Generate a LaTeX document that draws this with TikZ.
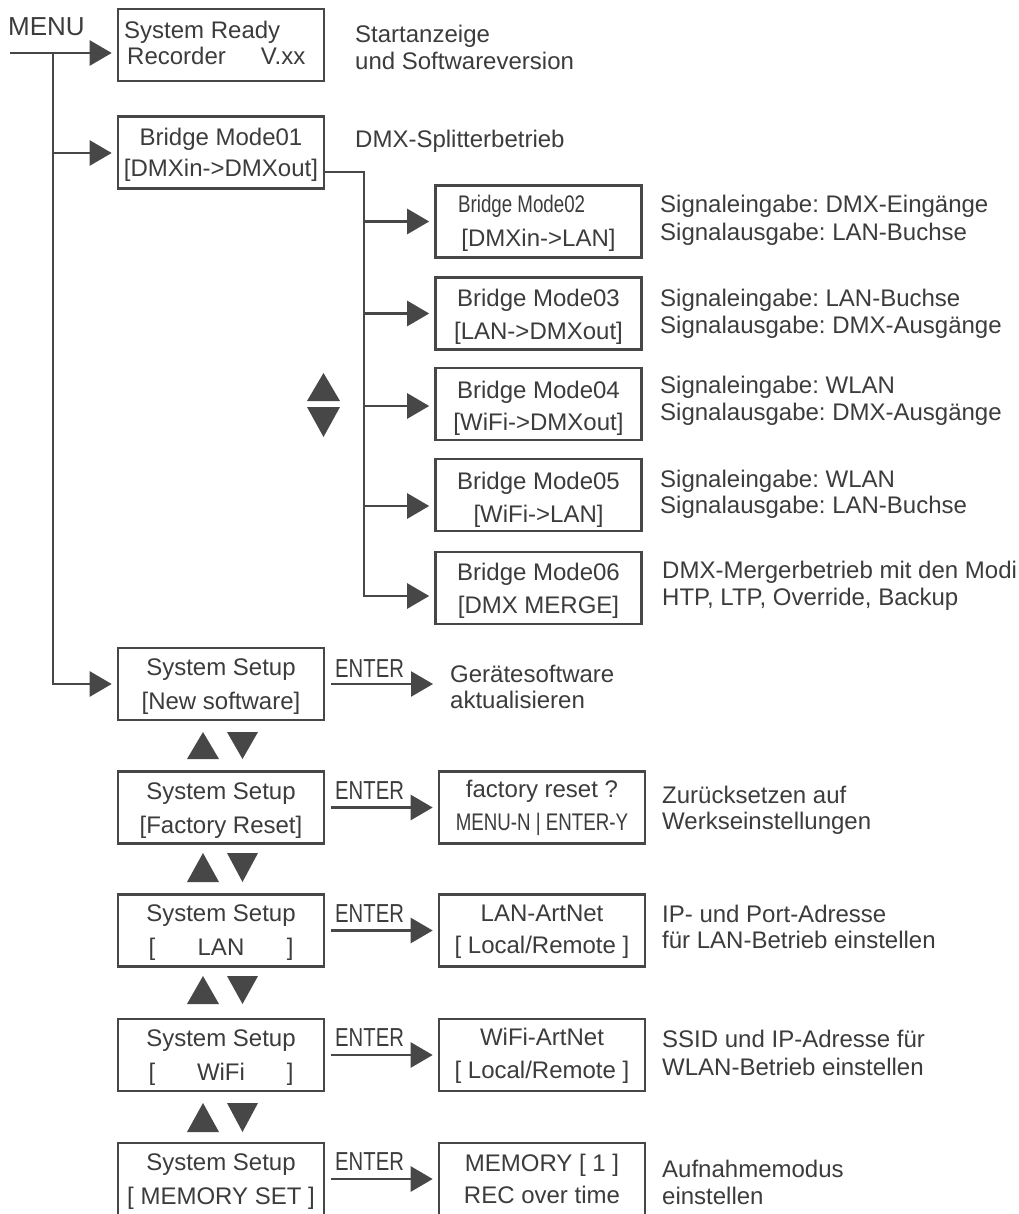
\documentclass[tikz,border=0pt]{standalone}
\usepackage{fontspec}
\setmainfont{Liberation Sans}
\newfontfamily\narrowf[FakeStretch=0.78]{Liberation Sans}
\usetikzlibrary{arrows.meta}
\definecolor{lc}{HTML}{474747}
\definecolor{tc}{HTML}{3C3C3C}
\frenchspacing
\begin{document}
\begin{tikzpicture}[x=1pt,y=-1pt,
  box/.style={draw=lc, line width=2.6pt, inner sep=0pt, minimum width=206pt, minimum height=72pt},
  tx/.style={text=tc, inner sep=0pt, anchor=base, font=\fontsize{24}{28}\selectfont},
  txl/.style={tx, anchor=base west},
  nar/.style={text=tc, inner sep=0pt, anchor=base, font=\narrowf\fontsize{24}{28}\selectfont},
  ent/.style={text=tc, inner sep=0pt, anchor=base west, font=\narrowf\fontsize{26}{28}\selectfont},
  arr/.style={draw=lc, line width=2.6pt, -{Triangle[length=22pt,width=25pt]}, shorten >=5pt},
  ln/.style={draw=lc, line width=2.6pt},
  tri/.style={fill=lc, draw=none}
]
\fill[white] (0,0) rectangle (1018,1214);
\useasboundingbox (0,0) rectangle (1018,1214);

% ---------- boxes, left column
\node[box] (b0) at (221,45) {};
\node[box] (b1) at (221,152.5) {};
\node[box] (s1) at (221,684) {};
\node[box] (s2) at (221,807.5) {};
\node[box] (s3) at (221,930.5) {};
\node[box] (s4) at (221,1055) {};
\node[box] (s5) at (221,1179) {};
% ---------- bridge boxes
\node[box] (m2) at (538.5,221.5) {};
\node[box] (m3) at (538.5,313.5) {};
\node[box] (m4) at (538.5,404) {};
\node[box] (m5) at (538.5,495) {};
\node[box] (m6) at (538.5,588) {};
% ---------- right setup boxes
\node[box] (r2) at (542,807.5) {};
\node[box] (r3) at (542,930.5) {};
\node[box] (r4) at (542,1055) {};
\node[box] (r5) at (542,1179) {};

% ---------- box texts
\node[txl] (b0a) at (124,39) {System Ready};
\node[txl] (b0b) at (127,65) {Recorder\hspace{35pt}V.xx};
\node[tx] (b1a) at (221,146) {Bridge Mode01};
\node[tx] (b1b) at (221,177) {\relax[DMXin->DMXout]};

\node[tx] (s1a) at (221,675) {System Setup};
\node[tx] (s1b) at (221,709) {\relax[New software]};
\node[tx] (s2a) at (221,799) {System Setup};
\node[tx] (s2b) at (221,833) {\relax[Factory Reset]};
\node[tx] (s3a) at (221,921) {System Setup};
\node[tx] (s3b) at (221,955) {\makebox[145pt]{[\hfill LAN\hfill ]}};
\node[tx] (s4a) at (221,1046) {System Setup};
\node[tx] (s4b) at (221,1080) {\makebox[145pt]{[\hfill WiFi\hfill ]}};
\node[tx] (s5a) at (221,1170) {System Setup};
\node[tx] (s5b) at (221,1204) {\relax[ MEMORY SET ]};

\node[nar, anchor=base west] (m2a) at (458,213) {Bridge Mode02};
\node[tx] (m2b) at (538.5,247) {\relax[DMXin->LAN]};
\node[tx] (m3a) at (538.5,306) {Bridge Mode03};
\node[tx] (m3b) at (538.5,339) {\relax[LAN->DMXout]};
\node[tx] (m4a) at (538.5,398) {Bridge Mode04};
\node[tx] (m4b) at (538.5,430) {\relax[WiFi->DMXout]};
\node[tx] (m5a) at (538.5,489) {Bridge Mode05};
\node[tx] (m5b) at (538.5,522) {\relax[WiFi->LAN]};
\node[tx] (m6a) at (538.5,580) {Bridge Mode06};
\node[tx] (m6b) at (538.5,613) {\relax[DMX MERGE]};

\node[tx] (r2a) at (542,797) {factory reset ?};
\node[nar] (r2b) at (542,830) {MENU-N | ENTER-Y};
\node[tx] (r3a) at (542,921) {LAN-ArtNet};
\node[tx] (r3b) at (542,953) {\relax[ Local/Remote ]};
\node[tx] (r4a) at (542,1045) {WiFi-ArtNet};
\node[tx] (r4b) at (542,1078) {\relax[ Local/Remote ]};
\node[tx] (r5a) at (542,1171) {MEMORY [ 1 ]};
\node[tx] (r5b) at (542,1203) {REC over time};

% ---------- MENU and main trunk
\node[txl, font=\fontsize{26}{28}\selectfont] (menu) at (8,36) {MENU};
\coordinate (m0) at (10,53);
\coordinate (j0) at (53,53);
\coordinate (j1) at (53,153);
\coordinate (j2) at (53,684);
\draw[arr] (m0) -- (b0.west |- m0);
\draw[arr] (j0) -- (j2) -- (s1.west);
\draw[arr] (j1) -- (b1.west |- j1);

% ---------- bridge branch
\coordinate (k0) at (364,172);
\coordinate (k2) at (364,221.5);
\coordinate (k3) at (364,313.5);
\coordinate (k4) at (364,406);
\coordinate (k5) at (364,506);
\coordinate (k6) at (364,596);
\draw[arr] (b1.east |- k0) -- (k0) -- (k6) -- (m6.west |- k6);
\draw[arr] (k2) -- (m2.west);
\draw[arr] (k3) -- (m3.west);
\draw[arr] (k4) -- (m4.west |- k4);
\draw[arr] (k5) -- (m5.west |- k5);

% ---------- ENTER arrows
\coordinate (e1) at (438,684);
\draw[arr, shorten <=6pt] (s1.east) -- (e1);
\draw[arr, shorten <=6pt] (s2.east) -- (r2.west);
\draw[arr, shorten <=6pt] (s3.east) -- (r3.west);
\draw[arr, shorten <=6pt] (s4.east) -- (r4.west);
\draw[arr, shorten <=6pt] (s5.east) -- (r5.west);
\node[ent] (en1) at (335,677) {ENTER};
\node[ent] (en2) at (335,799) {ENTER};
\node[ent] (en3) at (335,922) {ENTER};
\node[ent] (en4) at (335,1046) {ENTER};
\node[ent] (en5) at (335,1170) {ENTER};

% ---------- up/down triangles
\fill[tri] (307,401) -- (340,401) -- (323.5,373) -- cycle;
\fill[tri] (307,407) -- (340,407) -- (323.5,437) -- cycle;
\foreach \t/\b in {732/759, 853/882, 976/1004, 1103/1132}{
  \fill[tri] (187,\b) -- (219,\b) -- (203,\t) -- cycle;
  \fill[tri] (227,\t) -- (258,\t) -- (242.5,\b) -- cycle;
}

% ---------- descriptions
\node[txl] (d0a) at (355,43) {Startanzeige};
\node[txl] (d0b) at (355,70) {und Softwareversion};
\node[txl] (d1) at (355,148) {DMX-Splitterbetrieb};
\node[txl] (d2a) at (660,213) {Signaleingabe: DMX-Eingänge};
\node[txl] (d2b) at (660,241) {Signalausgabe: LAN-Buchse};
\node[txl] (d3a) at (660,306) {Signaleingabe: LAN-Buchse};
\node[txl] (d3b) at (660,333) {Signalausgabe: DMX-Ausgänge};
\node[txl] (d4a) at (660,393) {Signaleingabe: WLAN};
\node[txl] (d4b) at (660,420) {Signalausgabe: DMX-Ausgänge};
\node[txl] (d5a) at (660,487) {Signaleingabe: WLAN};
\node[txl] (d5b) at (660,513) {Signalausgabe: LAN-Buchse};
\node[txl] (d6a) at (662,578) {DMX-Mergerbetrieb mit den Modi};
\node[txl] (d6b) at (662,605) {HTP, LTP, Override, Backup};
\node[txl] (g1a) at (450,682) {Gerätesoftware};
\node[txl] (g1b) at (450,708) {aktualisieren};
\node[txl] (g2a) at (662,803) {Zurücksetzen auf};
\node[txl] (g2b) at (662,829) {Werkseinstellungen};
\node[txl] (g3a) at (662,922) {IP- und Port-Adresse};
\node[txl] (g3b) at (662,948) {für LAN-Betrieb einstellen};
\node[txl] (g4a) at (662,1047) {SSID und IP-Adresse für};
\node[txl] (g4b) at (662,1075) {WLAN-Betrieb einstellen};
\node[txl] (g5a) at (662,1177) {Aufnahmemodus};
\node[txl] (g5b) at (662,1204) {einstellen};
\end{tikzpicture}
\end{document}
